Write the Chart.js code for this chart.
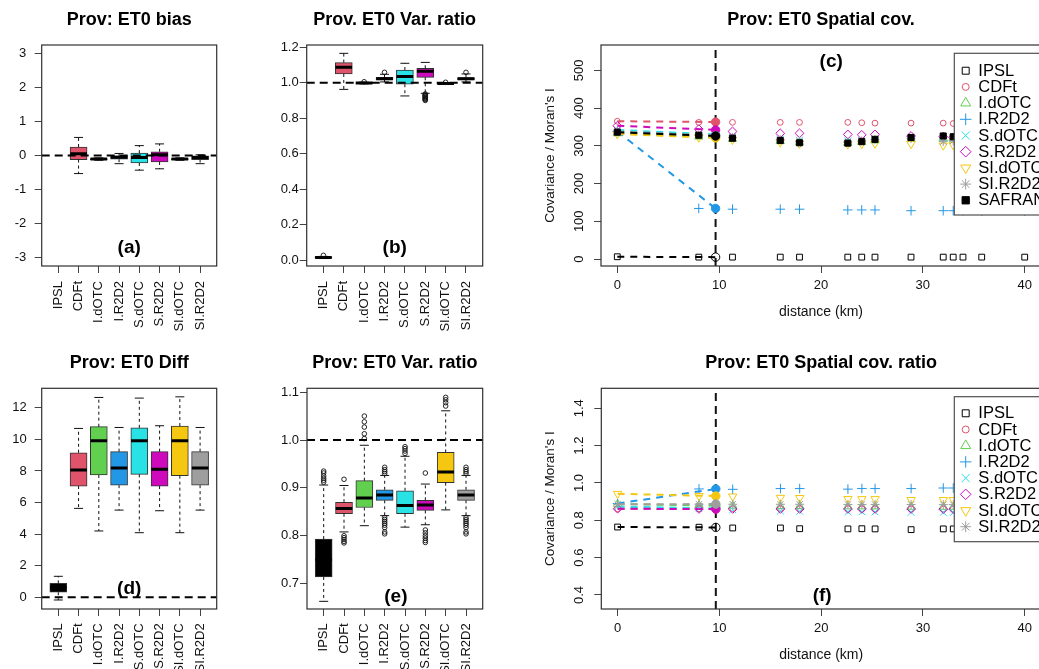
<!DOCTYPE html>
<html>
<head>
<meta charset="utf-8">
<title>Prov: ET0</title>
<script src="https://cdn.jsdelivr.net/npm/chart.js@4.4.1/dist/chart.umd.min.js"></script>
<style>
  html, body { margin: 0; padding: 0; background: #ffffff; }
  body { position: relative; width: 1039px; height: 669px; overflow: hidden; }
  canvas { position: absolute; }
</style>
</head>
<body>
<script>
// ---------- categories and tick labels ----------
const boxCategories = ['IPSL', 'CDFt', 'I.dOTC', 'I.R2D2', 'S.dOTC', 'S.R2D2', 'SI.dOTC', 'SI.R2D2'];
const biasTicks = [-3, -2, -1, 0, 1, 2, 3];
const varTicks = [0, 0.2, 0.4, 0.6, 0.8, 1.0, 1.2];
const diffTicks = [0, 2, 4, 6, 8, 10, 12];
const ratioTicks = [0.7, 0.8, 0.9, 1.0, 1.1];
const covTicks = [0, 100, 200, 300, 400, 500];
const covRatioTicks = [0.4, 0.6, 0.8, 1.0, 1.2, 1.4];
const distanceTicks = [0, 10, 20, 30, 40];

// ---------- (a) ET0 bias ----------
const biasLow  = [null, -0.53, -0.14, -0.24, -0.43, -0.39, -0.14, -0.24];
const biasQ1   = [null, -0.12, -0.12, -0.11, -0.22, -0.19, -0.12, -0.12];
const biasMed  = [null,  0.05, -0.10, -0.05, -0.06,  0.02, -0.10, -0.06];
const biasQ3   = [null,  0.25, -0.09, -0.01,  0.07,  0.11, -0.09, -0.01];
const biasHigh = [null,  0.53, -0.07,  0.06,  0.29,  0.34, -0.07,  0.02];

// ---------- (b) ET0 variance ratio ----------
const varLow  = [0.010, 0.963, 0.994, 1.005, 0.926, 0.941, 0.992, 1.005];
const varQ1   = [0.013, 1.050, 0.997, 1.016, 0.992, 1.031, 0.994, 1.016];
const varMed  = [0.016, 1.087, 0.999, 1.023, 1.035, 1.065, 0.996, 1.023];
const varQ3   = [0.019, 1.114, 1.001, 1.031, 1.072, 1.082, 0.998, 1.029];
const varHigh = [0.022, 1.166, 1.003, 1.048, 1.110, 1.115, 1.000, 1.050];
const varOutliers = [
  [0.028], [], [1.006], [1.059], [],
  [0.937, 0.933, 0.929, 0.925, 0.921, 0.917, 0.913, 0.909, 0.905, 0.901],
  [1.003], [1.059]
];

// ---------- (d) ET0 difference ----------
const diffLow  = [-0.17, 5.63, 4.20, 5.52, 4.09, 5.48, 4.09, 5.52];
const diffQ1   = [0.32, 7.04, 7.74, 7.10, 7.78, 7.04, 7.70, 7.10];
const diffMed  = [0.62, 8.06, 9.91, 8.18, 9.91, 8.10, 9.91, 8.18];
const diffQ3   = [0.88, 9.15, 10.80, 9.22, 10.73, 9.22, 10.84, 9.22];
const diffHigh = [1.33, 10.69, 12.65, 10.75, 12.61, 10.86, 12.69, 10.75];

// ---------- (e) ET0 variance ratio ----------
const ratioLow  = [0.663, 0.808, 0.821, 0.842, 0.818, 0.823, 0.854, 0.842];
const ratioQ1   = [0.714, 0.846, 0.859, 0.874, 0.846, 0.853, 0.911, 0.874];
const ratioMed  = [0.750, 0.857, 0.879, 0.885, 0.863, 0.864, 0.933, 0.885];
const ratioQ3   = [0.793, 0.870, 0.915, 0.896, 0.894, 0.874, 0.974, 0.896];
const ratioHigh = [0.906, 0.905, 0.989, 0.926, 0.966, 0.908, 1.061, 0.926];
const ratioOutliers = [
  [0.912, 0.916, 0.920, 0.925, 0.931, 0.935],
  [0.918, 0.800, 0.796, 0.792, 0.788, 0.785],
  [1.003, 1.013, 1.027, 1.038, 1.050],
  [0.930, 0.934, 0.938, 0.943, 0.838, 0.834, 0.830, 0.826, 0.822, 0.817, 0.808, 0.804],
  [0.972, 0.977, 0.982, 0.986],
  [0.931, 0.812, 0.806, 0.800, 0.795, 0.790, 0.786],
  [1.071, 1.078, 1.084, 1.089],
  [0.930, 0.934, 0.938, 0.943, 0.838, 0.834, 0.830, 0.826, 0.822, 0.817, 0.808, 0.804]
];

// ---------- (c) spatial covariance by distance ----------
const distanceKm = [0, 8, 11.31, 16, 17.89, 22.63, 24, 25.3, 28.84, 32, 32.98, 33.94, 35.78, 40];
const rangeKm = 9.65;
const covNames  = ['IPSL', 'CDFt', 'I.dOTC', 'I.R2D2', 'S.dOTC', 'S.R2D2', 'SI.dOTC', 'SI.R2D2', 'SAFRAN'];
const covIPSL   = [6, 5, 5, 5, 5, 5, 5, 5, 5, 5, 5, 5, 5, 5];
const covCDFt   = [365, 362, 362, 362, 362, 362, 361, 360, 360, 360, 359, 359, 358, 357];
const covIdOTC  = [333, 324, 318, 312, 309, 308, 310, 314, 318, 320, 319, 318, 316, 314];
const covIR2D2  = [338, 134, 132, 132, 132, 130, 130, 130, 128, 128, 128, 128, 127, 127];
const covSdOTC  = [342, 331, 324, 318, 315, 313, 314, 317, 319, 320, 319, 318, 317, 315];
const covSR2D2  = [353, 344, 338, 333, 333, 330, 329, 330, 326, 324, 322, 321, 320, 318];
const covSIdOTC = [331, 322, 316, 309, 306, 304, 305, 306, 305, 301, 302, 301, 300, 299];
const covSIR2D2 = [338, 329, 322, 316, 312, 310, 313, 316, 319, 311, 313, 313, 312, 310];
const covSAFRAN = [336, 328, 320, 314, 308, 307, 311, 317, 322, 326, 324, 322, 320, 318];
const covAtRange = [5, 363, 322, 134, 330, 342, 321, 327, 326];

// ---------- (f) spatial covariance ratio by distance ----------
const covRatioNames  = ['IPSL', 'CDFt', 'I.dOTC', 'I.R2D2', 'S.dOTC', 'S.R2D2', 'SI.dOTC', 'SI.R2D2'];
const covRatioIPSL   = [0.764, 0.763, 0.759, 0.759, 0.755, 0.754, 0.755, 0.754, 0.750, 0.754, 0.754, 0.753, 0.752, 0.751];
const covRatioCDFt   = [0.862, 0.862, 0.862, 0.862, 0.862, 0.862, 0.861, 0.861, 0.861, 0.861, 0.861, 0.860, 0.860, 0.860];
const covRatioIdOTC  = [0.887, 0.880, 0.878, 0.876, 0.876, 0.874, 0.874, 0.874, 0.872, 0.872, 0.872, 0.871, 0.870, 0.870];
const covRatioIR2D2  = [0.890, 0.968, 0.966, 0.970, 0.970, 0.967, 0.970, 0.970, 0.970, 0.973, 0.973, 0.972, 0.972, 0.971];
const covRatioSdOTC  = [0.873, 0.862, 0.856, 0.850, 0.848, 0.845, 0.845, 0.845, 0.843, 0.842, 0.842, 0.841, 0.841, 0.840];
const covRatioSR2D2  = [0.862, 0.861, 0.861, 0.861, 0.861, 0.861, 0.861, 0.861, 0.861, 0.860, 0.860, 0.860, 0.860, 0.860];
const covRatioSIdOTC = [0.942, 0.931, 0.928, 0.921, 0.920, 0.915, 0.914, 0.914, 0.909, 0.909, 0.909, 0.908, 0.907, 0.906];
const covRatioSIR2D2 = [0.886, 0.886, 0.886, 0.886, 0.886, 0.885, 0.885, 0.885, 0.885, 0.884, 0.884, 0.884, 0.883, 0.883];
const covRatioAtRange = [0.762, 0.862, 0.879, 0.968, 0.864, 0.860, 0.930, 0.887];

// ---------- styles ----------
const FONT = '"Liberation Sans", Arial, Helvetica, sans-serif';
const boxFill = ['#000000', '#DF536B', '#61D04F', '#2297E6', '#28E2E5', '#CD0BBC', '#F5C710', '#9E9E9E'];
const markerStyles = {
  'IPSL':    { shape: 'rect',     radius: 4.1, colour: '#000000', filled: false, openRange: true },
  'CDFt':    { shape: 'circle',   radius: 2.9, colour: '#DF536B', filled: false },
  'I.dOTC':  { shape: 'triangle', radius: 4.8, colour: '#61D04F', filled: false },
  'I.R2D2':  { shape: 'cross',    radius: 4.8, colour: '#2297E6', filled: false },
  'S.dOTC':  { shape: 'crossRot', radius: 4.8, colour: '#28E2E5', filled: false },
  'S.R2D2':  { shape: 'rectRot',  radius: 4.4, colour: '#CD0BBC', filled: false },
  'SI.dOTC': { shape: 'triangle', radius: 4.8, colour: '#F5C710', filled: false, rotation: 180 },
  'SI.R2D2': { shape: 'star',     radius: 4.5, colour: '#9E9E9E', filled: false },
  'SAFRAN':  { shape: 'rect',     radius: 4.3, colour: '#000000', filled: true }
};

// ---------- panel layout (canvas rectangle and plotting region, page pixels) ----------
const frames = {
  a: { left: 0,   top: 0,   width: 260, height: 335, area: { left: 41.7,  top: 45,    right: 216.7, bottom: 266 } },
  b: { left: 260, top: 0,   width: 265, height: 335, area: { left: 306.7, top: 45,    right: 482.7, bottom: 266 } },
  c: { left: 530, top: 0,   width: 540, height: 335, area: { left: 601,   top: 45,    right: 1041,  bottom: 266 } },
  d: { left: 0,   top: 335, width: 260, height: 334, area: { left: 41.7,  top: 388.3, right: 216.7, bottom: 609 } },
  e: { left: 260, top: 335, width: 265, height: 334, area: { left: 307,   top: 388.3, right: 482.7, bottom: 609 } },
  f: { left: 530, top: 335, width: 540, height: 334, area: { left: 601.3, top: 388.3, right: 1041,  bottom: 609 } }
};

// ---------- plugins ----------
const framePlugin = {
  id: 'plotFrame',
  afterDatasetsDraw(chart) {
    const { ctx, chartArea: a } = chart;
    ctx.save();
    ctx.strokeStyle = '#303030';
    ctx.lineWidth = 1.2;
    ctx.strokeRect(a.left, a.top, a.right - a.left, a.bottom - a.top);
    ctx.restore();
  }
};

const keyPlugin = {
  id: 'seriesKey',
  afterDatasetsDraw(chart, args, opts) {
    if (!opts || !opts.names) return;
    const { ctx, chartArea: a } = chart;
    const left = a.left + opts.dx, top = a.top + opts.dy;
    ctx.save();
    ctx.fillStyle = '#ffffff';
    ctx.fillRect(left, top, opts.width, opts.height);
    ctx.strokeStyle = '#505050';
    ctx.lineWidth = 1.2;
    ctx.strokeRect(left, top, opts.width, opts.height);
    ctx.font = '16.5px ' + FONT;
    ctx.textBaseline = 'middle';
    ctx.textAlign = 'left';
    opts.names.forEach((name, i) => {
      const st = markerStyles[name];
      const y = top + opts.firstRow + i * opts.rowH;
      ctx.lineWidth = 1;
      ctx.strokeStyle = st.colour;
      ctx.fillStyle = st.filled ? st.colour : 'rgba(0,0,0,0)';
      Chart.helpers.drawPoint(ctx, {
        pointStyle: st.shape, rotation: st.rotation || 0,
        radius: st.radius * 1.2, borderWidth: 1
      }, left + 11.4, y);
      ctx.fillStyle = '#000000';
      ctx.fillText(name, left + 24, y + 0.5);
    });
    ctx.restore();
  }
};

const tagPlugin = {
  id: 'panelTag',
  afterDatasetsDraw(chart, args, opts) {
    if (!opts || !opts.text) return;
    const { ctx, scales } = chart;
    ctx.save();
    ctx.font = 'bold 19px ' + FONT;
    ctx.fillStyle = '#000000';
    ctx.textAlign = 'center';
    ctx.textBaseline = 'middle';
    ctx.fillText(opts.text, scales.x.getPixelForValue(opts.x), scales.y.getPixelForValue(opts.y));
    ctx.restore();
  }
};

// ---------- helpers ----------
function addCanvas(f) {
  const c = document.createElement('canvas');
  c.width = f.width;
  c.height = f.height;
  c.style.left = f.left + 'px';
  c.style.top = f.top + 'px';
  c.style.width = f.width + 'px';
  c.style.height = f.height + 'px';
  document.body.appendChild(c);
  return c;
}

const tickGrid = {
  display: true, drawOnChartArea: false, drawTicks: true,
  tickLength: 7, tickColor: '#444444', tickWidth: 1, color: '#444444', offset: false
};

function titleOptions(text, frame, titleY) {
  const size = 18;
  const lh = size * 1.2;
  const padTop = titleY - lh / 2;
  return {
    display: true, text, fullSize: false, color: '#000000',
    font: { family: FONT, size, weight: 'bold', lineHeight: 1.2 },
    padding: { top: padTop, bottom: (frame.area.top - frame.top) - padTop - lh }
  };
}

// Box-and-whisker panel built from quartile, whisker and outlier arrays
function boxplotPanel(frame, spec) {
  const a = frame.area;
  const xMin = 0.18, xMax = 8.82;
  const boxes = [], fills = [], whiskers = [], staples = [], medians = [], outliers = [];
  boxCategories.forEach((name, i) => {
    if (spec.q1[i] === null) return;
    const x = i + 1;
    boxes.push({ x, y: [spec.q1[i], spec.q3[i]] });
    fills.push(boxFill[i]);
    whiskers.push({ x, y: spec.q3[i] }, { x, y: spec.hi[i] }, { x, y: null },
                  { x, y: spec.q1[i] }, { x, y: spec.lo[i] }, { x, y: null });
    staples.push({ x, y: spec.lo[i] }, { x, y: spec.hi[i] });
    medians.push({ x, y: spec.med[i] });
    (spec.out ? spec.out[i] : []).forEach(v => outliers.push({ x, y: v }));
  });

  const layers = [
    { type: 'bar', data: boxes, backgroundColor: fills, borderColor: '#333333', borderWidth: 1,
      borderSkipped: false, barThickness: 17 },
    { type: 'line', data: whiskers, borderColor: '#111111', borderWidth: 1, borderDash: [3, 3],
      pointRadius: 0, spanGaps: false, fill: false },
    { type: 'scatter', data: staples, pointStyle: 'line', pointRadius: 4.5, pointBorderWidth: 1,
      borderColor: '#111111', pointBorderColor: '#111111', backgroundColor: '#111111' },
    { type: 'scatter', data: medians, pointStyle: 'line', pointRadius: 8.3, pointBorderWidth: 3,
      borderColor: '#000000', pointBorderColor: '#000000', backgroundColor: '#000000' },
    { type: 'scatter', data: outliers, pointStyle: 'circle', pointRadius: 2.3, pointBorderWidth: 0.9,
      borderColor: '#111111', pointBorderColor: '#111111', pointBackgroundColor: 'rgba(0,0,0,0)',
      backgroundColor: 'rgba(0,0,0,0)' },
    { type: 'line', data: [{ x: xMin, y: spec.ref }, { x: xMax, y: spec.ref }], borderColor: '#000000',
      borderWidth: 2, borderDash: [8, 5], pointRadius: 0, fill: false }
  ];
  layers.forEach((d, k) => { d.order = layers.length - k; });

  new Chart(addCanvas(frame), {
    type: 'scatter',
    data: { datasets: layers },
    plugins: [framePlugin, tagPlugin],
    options: {
      responsive: false, animation: false, events: [],
      layout: { padding: { left: 0, top: 0, bottom: 0, right: frame.left + frame.width - a.right } },
      plugins: {
        legend: { display: false }, tooltip: { enabled: false },
        title: titleOptions(spec.title, frame, spec.titleY),
        panelTag: spec.tag
      },
      scales: {
        x: {
          type: 'linear', min: xMin, max: xMax, offset: false,
          afterBuildTicks: s => { s.ticks = boxCategories.map((n, i) => ({ value: i + 1 })); },
          ticks: {
            callback: v => boxCategories[Math.round(v) - 1],
            minRotation: 90, maxRotation: 90, autoSkip: false,
            font: { family: FONT, size: 13 }, color: '#111111', padding: spec.xPad
          },
          grid: tickGrid, border: { display: false },
          afterFit: s => { s.height = frame.top + frame.height - a.bottom; }
        },
        y: {
          type: 'linear', min: spec.yMin, max: spec.yMax,
          afterBuildTicks: s => { s.ticks = spec.ticks.map(v => ({ value: v })); },
          ticks: {
            callback: spec.fmt, font: { family: FONT, size: 13 }, color: '#111111', padding: spec.yPad
          },
          grid: tickGrid, border: { display: false },
          afterFit: s => { s.width = a.left - frame.left; }
        }
      }
    }
  });
}

// Covariance-versus-distance panel: markers per distance, dashed link from 0 km to the range value
function distancePanel(frame, spec) {
  const a = frame.area;
  const layers = [
    { type: 'line', data: [{ x: rangeKm, y: spec.yMin }, { x: rangeKm, y: spec.yMax }],
      borderColor: '#111111', borderWidth: 2, borderDash: [8, 5], pointRadius: 0, fill: false }
  ];
  spec.series.forEach((values, i) => {
    const st = markerStyles[spec.names[i]];
    layers.push({
      type: 'scatter', data: distanceKm.map((d, j) => ({ x: d, y: values[j] })),
      pointStyle: st.shape, pointRotation: st.rotation || 0, pointRadius: st.radius, pointBorderWidth: 1,
      borderColor: st.colour, pointBorderColor: st.colour,
      backgroundColor: st.filled ? st.colour : 'rgba(0,0,0,0)',
      pointBackgroundColor: st.filled ? st.colour : 'rgba(0,0,0,0)'
    });
    layers.push({
      type: 'line', data: [{ x: 0, y: values[0] }, { x: rangeKm, y: spec.atRange[i] }],
      borderColor: st.colour, borderWidth: 2, borderDash: [7, 6], fill: false,
      pointRadius: [0, 4.2], pointStyle: 'circle', pointBorderWidth: 1,
      pointBorderColor: st.colour,
      backgroundColor: st.openRange ? 'rgba(0,0,0,0)' : st.colour,
      pointBackgroundColor: st.openRange ? 'rgba(0,0,0,0)' : st.colour
    });
  });
  layers.forEach((d, k) => { d.order = layers.length - k; });

  new Chart(addCanvas(frame), {
    type: 'scatter',
    data: { datasets: layers },
    plugins: [framePlugin, keyPlugin, tagPlugin],
    options: {
      responsive: false, animation: false, events: [],
      layout: { padding: { left: 0, top: 0, bottom: 0, right: frame.left + frame.width - a.right } },
      plugins: {
        legend: { display: false }, tooltip: { enabled: false },
        title: titleOptions(spec.title, frame, spec.titleY),
        seriesKey: spec.key,
        panelTag: spec.tag
      },
      scales: {
        x: {
          type: 'linear', min: -1.6, max: 41.6,
          afterBuildTicks: s => { s.ticks = distanceTicks.map(v => ({ value: v })); },
          ticks: {
            callback: v => String(v), maxRotation: 0, autoSkip: false,
            font: { family: FONT, size: 13 }, color: '#111111', padding: spec.xPad
          },
          title: {
            display: true, text: 'distance (km)', color: '#111111',
            font: { family: FONT, size: 14, lineHeight: 1.2 },
            padding: { top: 0, bottom: spec.xTitlePad }
          },
          grid: tickGrid, border: { display: false },
          afterFit: s => { s.height = frame.top + frame.height - a.bottom; }
        },
        y: {
          type: 'linear', min: spec.yMin, max: spec.yMax,
          afterBuildTicks: s => { s.ticks = spec.ticks.map(v => ({ value: v })); },
          ticks: {
            callback: spec.fmt, minRotation: 90, maxRotation: 90, crossAlign: 'center',
            font: { family: FONT, size: 13 }, color: '#111111', padding: spec.yPad
          },
          title: {
            display: true, text: "Covariance / Moran's I", color: '#111111',
            font: { family: FONT, size: 13.5, lineHeight: 1.2 },
            padding: { top: 11.9, bottom: 0 }
          },
          grid: tickGrid, border: { display: false },
          afterFit: s => { s.width = a.left - frame.left; }
        }
      }
    }
  });
}

const intLabel = v => String(v);
const oneDecimal = v => v.toFixed(1);

boxplotPanel(frames.a, {
  title: 'Prov: ET0 bias', titleY: 20,
  lo: biasLow, q1: biasQ1, med: biasMed, q3: biasQ3, hi: biasHigh, out: null,
  ref: 0, yMin: -3.24, yMax: 3.24, ticks: biasTicks, fmt: intLabel, yPad: 8.5, xPad: 8,
  tag: { text: '(a)', x: 4.5, y: -2.72 }
});

boxplotPanel(frames.b, {
  title: 'Prov. ET0 Var. ratio', titleY: 20,
  lo: varLow, q1: varQ1, med: varMed, q3: varQ3, hi: varHigh, out: varOutliers,
  ref: 1, yMin: -0.032, yMax: 1.213, ticks: varTicks, fmt: oneDecimal, yPad: 1, xPad: 8,
  tag: { text: '(b)', x: 4.5, y: 0.068 }
});

boxplotPanel(frames.d, {
  title: 'Prov: ET0 Diff', titleY: 27.7,
  lo: diffLow, q1: diffQ1, med: diffMed, q3: diffQ3, hi: diffHigh, out: null,
  ref: 0, yMin: -0.74, yMax: 13.23, ticks: diffTicks, fmt: intLabel, yPad: 8, xPad: 7.3,
  tag: { text: '(d)', x: 4.5, y: 0.57 }
});

boxplotPanel(frames.e, {
  title: 'Prov: ET0 Var. ratio', titleY: 27.7,
  lo: ratioLow, q1: ratioQ1, med: ratioMed, q3: ratioQ3, hi: ratioHigh, out: ratioOutliers,
  ref: 1, yMin: 0.647, yMax: 1.108, ticks: ratioTicks, fmt: oneDecimal, yPad: 1, xPad: 7.3,
  tag: { text: '(e)', x: 4.55, y: 0.672 }
});

distancePanel(frames.c, {
  title: 'Prov: ET0 Spatial cov.', titleY: 20,
  names: covNames,
  series: [covIPSL, covCDFt, covIdOTC, covIR2D2, covSdOTC, covSR2D2, covSIdOTC, covSIR2D2, covSAFRAN],
  atRange: covAtRange,
  yMin: -18.5, yMax: 567, ticks: covTicks, fmt: intLabel, yPad: 4.2, xPad: 4.3, xTitlePad: 14.6,
  key: { names: covNames, dx: 353.3, dy: 8.3, width: 100, height: 161.7, firstRow: 17.4, rowH: 16.2 },
  tag: { text: '(c)', x: 21, y: 523 }
});

distancePanel(frames.f, {
  title: 'Prov: ET0 Spatial cov. ratio', titleY: 27.7,
  names: covRatioNames,
  series: [covRatioIPSL, covRatioCDFt, covRatioIdOTC, covRatioIR2D2, covRatioSdOTC, covRatioSR2D2, covRatioSIdOTC, covRatioSIR2D2],
  atRange: covRatioAtRange,
  yMin: 0.325, yMax: 1.507, ticks: covRatioTicks, fmt: oneDecimal, yPad: 6, xPad: 4.5, xTitlePad: 5.6,
  key: { names: covRatioNames, dx: 353, dy: 8.4, width: 100, height: 145, firstRow: 16.6, rowH: 16.2 },
  tag: { text: '(f)', x: 20.1, y: 0.395 }
});
</script>
</body>
</html>
